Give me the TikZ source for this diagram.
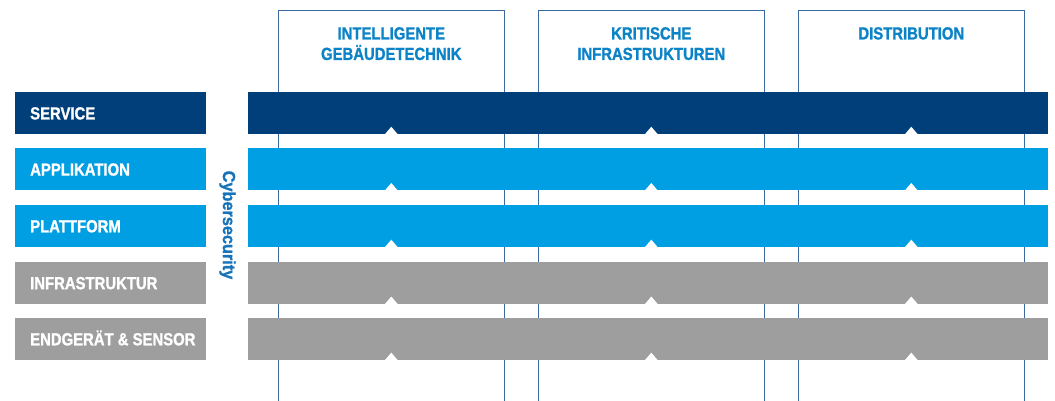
\documentclass[tikz,border=0pt]{standalone}
\usepackage{fontspec}
\setmainfont{Liberation Sans}
\newfontfamily\condbold{Liberation Sans}[UprightFont={* Bold}, BoldFont={* Bold}, FakeStretch=0.85, FakeBold=1.2]
\newfontfamily\cyberfont{Liberation Sans}[UprightFont={* Bold}, BoldFont={* Bold}, FakeStretch=0.93, FakeBold=1.2]
\definecolor{darkblue}{HTML}{003F79}
\definecolor{lightblue}{HTML}{009EE2}
\definecolor{graybar}{HTML}{9D9E9D}
\definecolor{colframe}{HTML}{3A6AA0}
\definecolor{headblue}{HTML}{0C83C6}
\definecolor{cyberblue}{HTML}{1673B9}
\begin{document}
\begin{tikzpicture}[x=1pt,y=-1pt,
  box/.style={rectangle, inner sep=0pt, outer sep=0pt, minimum height=41.5pt},
  labelbox/.style={box, minimum width=191pt},
  bar/.style={box, minimum width=800pt},
  labeltext/.style={anchor=base west, inner sep=0pt, text=white, font=\condbold\fontsize{17.5}{20}\selectfont},
  colbox/.style={rectangle, inner sep=0pt, outer sep=0pt, minimum width=226pt, minimum height=392pt},
  colline/.style={draw=colframe, line width=1.5pt},
  headtext/.style={anchor=north, inner sep=0pt, align=center, text=headblue, font=\condbold\fontsize{17.5}{20.5}\selectfont},
  cyber/.style={inner sep=0pt, text=cyberblue, font=\cyberfont\fontsize{17.5}{20}\selectfont},
  notch/.style={fill=white}
]
\useasboundingbox (0,0) rectangle (1055,400);

% columns
\node[colbox] (c1) at (391.3,206.7) {};
\node[colbox] (c2) at (651.3,206.7) {};
\node[colbox] (c3) at (911.3,206.7) {};
\foreach \c in {c1,c2,c3}
  \draw[colline] (\c.south west) -- (\c.north west) -- (\c.north east) -- (\c.south east);

\node[headtext] (h1) at (391.3,27) {INTELLIGENTE\\GEBÄUDETECHNIK};
\node[headtext] (h2) at (651.3,27) {KRITISCHE\\INFRASTRUKTUREN};
\node[headtext] (h3) at (911.3,27) {DISTRIBUTION};

% rows
\node[labelbox, fill=darkblue] (l1) at (110.5,113) {};
\node[labelbox, fill=lightblue] (l2) at (110.5,169.2) {};
\node[labelbox, fill=lightblue] (l3) at (110.5,225.9) {};
\node[labelbox, fill=graybar] (l4) at (110.5,282.8) {};
\node[labelbox, fill=graybar] (l5) at (110.5,338.9) {};

\node[bar, fill=darkblue] (b1) at (648,113) {};
\node[bar, fill=lightblue] (b2) at (648,169.2) {};
\node[bar, fill=lightblue] (b3) at (648,225.9) {};
\node[bar, fill=graybar] (b4) at (648,282.8) {};
\node[bar, fill=graybar] (b5) at (648,338.9) {};

\node[labeltext] (t1) at ([xshift=15pt,yshift=-6.4pt]l1.west) {SERVICE};
\node[labeltext] (t2) at ([xshift=15pt,yshift=-6.4pt]l2.west) {APPLIKATION};
\node[labeltext] (t3) at ([xshift=15pt,yshift=-6.4pt]l3.west) {PLATTFORM};
\node[labeltext] (t4) at ([xshift=15pt,yshift=-6.4pt]l4.west) {INFRASTRUKTUR};
\node[labeltext] (t5) at ([xshift=15pt,yshift=-6.4pt]l5.west) {ENDGERÄT \& SENSOR};

% notches
\foreach \b in {b1,b2,b3,b4,b5}
  \foreach \c in {c1,c2,c3}
    \fill[notch] (\c.center |- \b.south) ++(-6.5,0.6) -- ++(6.5,-7.6) -- ++(6.5,7.6) -- cycle;

\node[cyber, rotate=-90] (cy) at (227.5,225) {Cybersecurity};
\end{tikzpicture}
\end{document}
